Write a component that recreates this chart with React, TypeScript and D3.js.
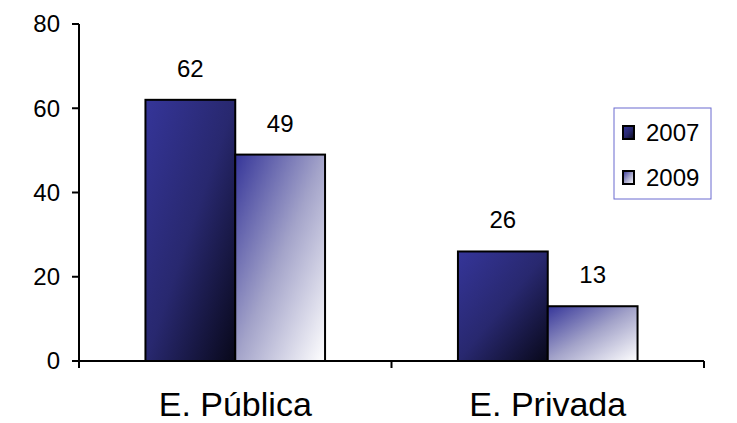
import React from "react";
import * as d3 from "d3";

const categories = ["E. Pública", "E. Privada"];
const seriesNames = ["2007", "2009"];
const values2007 = [62, 26];
const values2009 = [49, 13];
const yTicks = [0, 20, 40, 60, 80];

export default function App() {
  const W = 737, H = 423;
  const left = 79, right = 704, top = 24, bottom = 361;
  const y = d3.scaleLinear().domain([0, 80]).range([bottom, top]);
  const x0 = d3.scaleBand().domain(categories).range([left, right]).paddingInner(0).paddingOuter(0);
  const x1 = d3.scaleBand().domain(seriesNames).range([0, x0.bandwidth()]).paddingInner(0).paddingOuter(0.74);
  const series = [values2007, values2009];
  const fills = ["url(#g2007)", "url(#g2009)"];
  const font = "'Liberation Sans', Arial, sans-serif";

  return (
    <svg width={W} height={H} style={{ position: "absolute", left: 0, top: 0 }} fontFamily={font}>
      <defs>
        <linearGradient id="g2007" x1="0" y1="0" x2="1" y2="1">
          <stop offset="0" stopColor="#353599" />
          <stop offset="0.5" stopColor="#28286f" />
          <stop offset="1" stopColor="#08081a" />
        </linearGradient>
        <linearGradient id="g2009" x1="0" y1="0" x2="1" y2="1">
          <stop offset="0" stopColor="#353599" />
          <stop offset="0.5" stopColor="#a3a3c9" />
          <stop offset="1" stopColor="#ffffff" />
        </linearGradient>
      </defs>
      {categories.map((c, ci) =>
        series.map((vals, si) => {
          const bx = (x0(c) as number) + (x1(seriesNames[si]) as number);
          const bw = x1.bandwidth();
          const v = vals[ci];
          return (
            <g key={c + si}>
              <rect x={bx} y={y(v)} width={bw} height={bottom - y(v)} fill={fills[si]} stroke="#000" strokeWidth={2} />
              <text x={bx + bw / 2} y={y(v) - 23} textAnchor="middle" fontSize={24} fill="#000">{v}</text>
            </g>
          );
        })
      )}
      {/* y axis */}
      <line x1={left} x2={left} y1={top} y2={bottom} stroke="#000" strokeWidth={2} />
      {yTicks.map((t) => (
        <g key={t}>
          <line x1={left - 7} x2={left} y1={y(t)} y2={y(t)} stroke="#000" strokeWidth={2} />
          <text x={left - 19} y={y(t)} dy="0.35em" textAnchor="end" fontSize={24} fill="#000">{t}</text>
        </g>
      ))}
      {/* x axis */}
      <line x1={left} x2={right} y1={bottom} y2={bottom} stroke="#000" strokeWidth={2} />
      {[left, (x0(categories[1]) as number), right].map((tx, i) => (
        <line key={i} x1={tx} x2={tx} y1={bottom} y2={bottom + 7} stroke="#000" strokeWidth={2} />
      ))}
      {categories.map((c) => (
        <text key={c} x={(x0(c) as number) + x0.bandwidth() / 2} y={416} textAnchor="middle" fontSize={34} fill="#000">{c}</text>
      ))}
      {/* legend */}
      <rect x={614} y={108} width={97} height={91} fill="#fff" stroke="#6b6bd0" strokeWidth={1} />
      {seriesNames.map((s, i) => (
        <g key={s}>
          <rect x={623} y={126 + i * 45} width={11} height={13} fill={fills[i]} stroke="#000" strokeWidth={2} />
          <text x={646} y={133 + i * 45} dy="0.35em" fontSize={24} fill="#000">{s}</text>
        </g>
      ))}
    </svg>
  );
}
